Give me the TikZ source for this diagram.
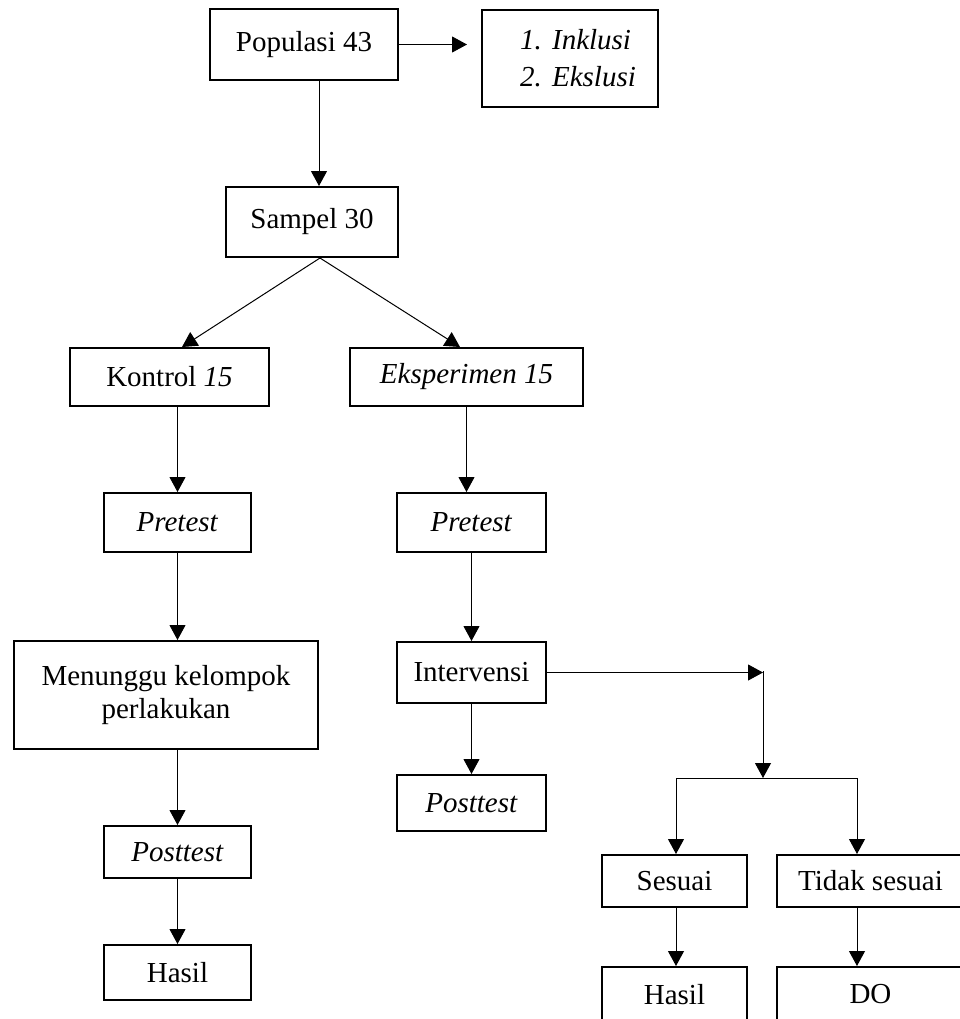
\documentclass[tikz,border=0pt]{standalone}
\usepackage{fontspec}
\setmainfont{Liberation Serif}
\usetikzlibrary{arrows.meta}

\begin{document}
\begin{tikzpicture}[x=0.5pt,y=-0.5pt,
  kotak/.style={draw,line width=1pt,inner sep=0pt,align=center,font=\fontsize{14.5pt}{16.5pt}\selectfont},
  panah/.style={line width=0.5pt,-{Triangle[length=7.5pt,width=8pt]}},
  garis/.style={line width=0.5pt}]
  \useasboundingbox (0,0) rectangle (960,1019);
  \node[kotak,minimum width=94pt,minimum height=35.5pt] (populasi) at (304,44.5) {Populasi 43};
  \node[kotak,minimum width=88pt,minimum height=48.5pt,align=left] (kriteria) at (570,58.5)
    {\hspace*{8pt}\makebox[16pt][l]{\textit{1.}}\textit{Inklusi}\\[2pt]\hspace*{8pt}\makebox[16pt][l]{\textit{2.}}\textit{Ekslusi}};
  \node[kotak,minimum width=86pt,minimum height=35pt] (sampel) at (312,222) {Sampel 30};
  \node[kotak,minimum width=99.5pt,minimum height=29pt] (kontrol) at (169.5,377) {Kontrol \textit{15}};
  \node[kotak,minimum width=116.5pt,minimum height=29pt] (eksperimen) at (466.5,377) {\textit{Eksperimen 15}};
  \node[kotak,minimum width=73.5pt,minimum height=29.5pt] (pretestA) at (177.5,522.5) {\textit{Pretest}};
  \node[kotak,minimum width=74.5pt,minimum height=29.5pt] (pretestB) at (471.5,522.5) {\textit{Pretest}};
  \node[kotak,minimum width=152pt,minimum height=54pt] (menunggu) at (166,695) {Menunggu kelompok\\perlakukan};
  \node[kotak,minimum width=74.5pt,minimum height=30.5pt] (intervensi) at (471.5,672.5) {Intervensi};
  \node[kotak,minimum width=73.5pt,minimum height=26pt] (posttestA) at (177.5,852) {\textit{Posttest}};
  \node[kotak,minimum width=74.5pt,minimum height=28pt] (posttestB) at (471.5,803) {\textit{Posttest}};
  \node[kotak,minimum width=73.5pt,minimum height=27.5pt] (hasilA) at (177.5,972.5) {Hasil};
  \node[kotak,minimum width=72.5pt,minimum height=26pt] (sesuai) at (674.5,881) {Sesuai};
  \node[kotak,minimum width=93.5pt,minimum height=26pt] (tidak) at (870.5,881) {Tidak sesuai};
  \node[kotak,minimum width=72.5pt,minimum height=27.5pt] (hasilB) at (674.5,994.5) {Hasil};
  \node[kotak,minimum width=93.5pt,minimum height=27.5pt] (dropout) at (870.5,994.5) {DO};

  \coordinate (belok) at (763,671);
  \coordinate (cabang) at (763,778);
  \coordinate (kiri) at (676,778);
  \coordinate (kanan) at (857,778);

  \draw[panah] (populasi.east) -- ([xshift=-7pt]populasi.east -| kriteria.west);
  \draw[panah] ([xshift=7.5pt]populasi.south) -- ([xshift=7.5pt]populasi.south |- sampel.north);
  \draw[panah] ([xshift=4pt]sampel.south) -- ([xshift=6.25pt]kontrol.north);
  \draw[panah] ([xshift=4pt]sampel.south) -- ([xshift=-3.25pt]eksperimen.north);
  \draw[panah] (kontrol.south -| pretestA.north) -- (pretestA.north);
  \draw[panah] (pretestA.south) -- (pretestA.south |- menunggu.north);
  \draw[panah] (menunggu.south -| posttestA.north) -- (posttestA.north);
  \draw[panah] (posttestA) -- (hasilA);
  \draw[panah] (eksperimen.south) -- (eksperimen.south |- pretestB.north);
  \draw[panah] (pretestB) -- (intervensi);
  \draw[panah] (intervensi) -- (posttestB);
  \draw[panah] (intervensi.east) -- (intervensi.east -| belok);
  \draw[panah] (belok) -- (cabang);
  \draw[garis] (kiri) -- (kanan);
  \draw[panah] (kiri) -- (kiri |- sesuai.north);
  \draw[panah] (kanan) -- (kanan |- tidak.north);
  \draw[panah] (sesuai.south -| kiri) -- (hasilB.north -| kiri);
  \draw[panah] (tidak.south -| kanan) -- (dropout.north -| kanan);
\end{tikzpicture}
\end{document}
